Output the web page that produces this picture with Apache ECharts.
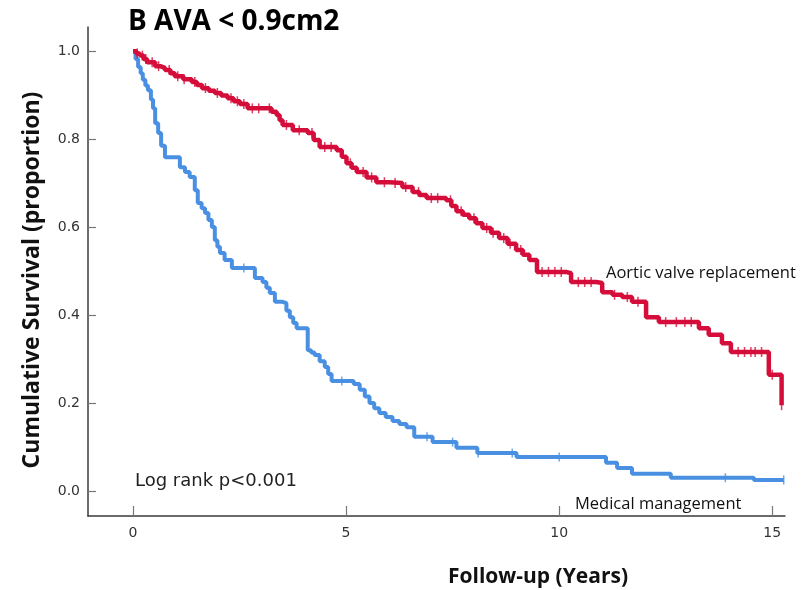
<!DOCTYPE html>
<html>
<head>
<meta charset="utf-8">
<script src="https://cdn.jsdelivr.net/npm/echarts@6/dist/echarts.min.js"></script>
<style>
  html, body { margin: 0; padding: 0; background: #ffffff; }
  #chart { width: 803px; height: 590px; }
</style>
</head>
<body>
<div id="chart"></div>
<script>
// ---- Data ----
var xTicks = [0, 5, 10, 15];
var yTicks = [0, 0.2, 0.4, 0.6, 0.8, 1.0];

// Aortic valve replacement: time (years), survival proportion
var avrTime = [0, 0.08, 0.16, 0.25, 0.33, 0.52, 0.64, 0.75, 0.88, 0.98, 1.18, 1.38, 1.5, 1.62, 1.78, 1.92, 2.07, 2.22, 2.36, 2.51, 2.69, 3.11, 3.25, 3.37, 3.44, 3.51, 3.75, 4.10, 4.24, 4.38, 4.78, 4.9, 5.01, 5.13, 5.25, 5.48, 5.71, 6.02, 6.32, 6.56, 6.72, 6.89, 7.35, 7.47, 7.59, 7.74, 7.89, 8.05, 8.20, 8.40, 8.59, 8.79, 8.99, 9.15, 9.30, 9.48, 10.16, 10.28, 10.87, 11.01, 11.25, 11.48, 11.71, 12.04, 12.34, 13.28, 13.51, 13.82, 14.03, 14.92, 15.22, 15.22];
var avrSurv = [1.0, 0.995, 0.99, 0.982, 0.975, 0.966, 0.962, 0.957, 0.95, 0.943, 0.936, 0.930, 0.923, 0.916, 0.91, 0.905, 0.899, 0.893, 0.886, 0.880, 0.870, 0.870, 0.862, 0.855, 0.843, 0.832, 0.820, 0.814, 0.798, 0.782, 0.775, 0.760, 0.745, 0.735, 0.725, 0.713, 0.702, 0.700, 0.691, 0.680, 0.673, 0.666, 0.661, 0.648, 0.636, 0.628, 0.620, 0.609, 0.598, 0.587, 0.575, 0.562, 0.548, 0.537, 0.525, 0.498, 0.495, 0.475, 0.473, 0.452, 0.446, 0.441, 0.430, 0.395, 0.384, 0.370, 0.355, 0.336, 0.316, 0.264, 0.264, 0.195];
var avrCensor = [0.1, 0.22, 0.3, 0.45, 0.6, 0.85, 1.05, 1.2, 1.45, 1.7, 1.98, 2.3, 2.45, 2.6, 2.8, 2.95, 3.2, 3.6, 3.9, 4.2, 4.5, 4.65, 5.1, 5.4, 5.6, 5.9, 6.15, 6.4, 6.7, 7.0, 7.15, 7.45, 7.7, 8.0, 8.3, 8.45, 8.7, 8.85, 9.1, 9.6, 9.75, 9.9, 10.05, 10.45, 10.6, 10.75, 11.3, 11.6, 11.85, 12.5, 12.75, 12.95, 13.1, 14.2, 14.35, 14.5, 14.6, 14.75, 15.0, 15.22];

// Medical management
var medTime = [0, 0.06, 0.12, 0.18, 0.23, 0.29, 0.35, 0.42, 0.47, 0.52, 0.59, 0.66, 0.75, 1.10, 1.22, 1.33, 1.45, 1.52, 1.61, 1.69, 1.77, 1.85, 1.92, 1.98, 2.04, 2.15, 2.32, 2.86, 3.04, 3.13, 3.21, 3.33, 3.51, 3.60, 3.68, 3.76, 3.84, 4.10, 4.18, 4.26, 4.38, 4.50, 4.58, 4.66, 5.18, 5.32, 5.44, 5.55, 5.66, 5.78, 5.93, 6.09, 6.25, 6.42, 6.60, 7.03, 7.59, 8.08, 9.00, 11.10, 11.36, 11.71, 12.62, 14.57, 15.27];
var medSurv = [1.0, 0.982, 0.964, 0.95, 0.935, 0.922, 0.911, 0.89, 0.87, 0.836, 0.814, 0.785, 0.759, 0.736, 0.725, 0.714, 0.684, 0.655, 0.643, 0.632, 0.616, 0.600, 0.570, 0.555, 0.541, 0.525, 0.507, 0.484, 0.475, 0.462, 0.450, 0.430, 0.427, 0.41, 0.395, 0.382, 0.370, 0.320, 0.315, 0.309, 0.295, 0.282, 0.266, 0.250, 0.243, 0.230, 0.215, 0.200, 0.188, 0.177, 0.168, 0.159, 0.152, 0.145, 0.123, 0.111, 0.098, 0.086, 0.077, 0.064, 0.052, 0.039, 0.030, 0.025, 0.025];
var medCensor = [2.6, 4.9, 6.9, 7.5, 8.1, 8.9, 10.0, 13.9, 15.27];

var titleText = 'B AVA < 0.9cm2';
var xName = 'Follow-up (Years)';
var yName = 'Cumulative Survival (proportion)';
var labelAVR = 'Aortic valve replacement';
var labelMed = 'Medical management';
var logRank = 'Log rank p<0.001';

// ---- Build ----
function pairs(t, s) { return t.map(function (v, i) { return [v, s[i]]; }); }
function survAt(t, s, x) {
  var y = s[0];
  for (var i = 0; i < t.length; i++) { if (t[i] <= x) y = s[i]; else break; }
  return y;
}
function censorPts(c, t, s) { return c.map(function (x) { return [x, survAt(t, s, x)]; }); }

var RED = '#d40d3b';
var BLUE = '#4a90e2';
var AX = '#3a3a3a';

var chart = echarts.init(document.getElementById('chart'), null, { renderer: 'canvas' });
chart.setOption({
  animation: false,
  backgroundColor: '#ffffff',
  grid: { left: 88, right: 18, top: 27, bottom: 74, containLabel: false },
  xAxis: {
    type: 'value', min: -1.056, max: 15.3,
    axisLine: { show: true, onZero: false, lineStyle: { color: AX, width: 1.5 } },
    axisTick: { show: true, inside: true, length: 10, customValues: xTicks, lineStyle: { color: '#777', width: 1.2 } },
    axisLabel: { customValues: xTicks, color: '#333', fontFamily: 'DejaVu Sans', fontSize: 14, margin: 10 },
    splitLine: { show: false }
  },
  yAxis: {
    type: 'value', min: -0.057, max: 1.055,
    axisLine: { show: true, onZero: false, lineStyle: { color: AX, width: 1.5 } },
    axisTick: { show: true, inside: true, length: 8, customValues: yTicks, lineStyle: { color: '#777', width: 1.2 } },
    axisLabel: { customValues: yTicks, color: '#333', fontFamily: 'DejaVu Sans', fontSize: 14, margin: 8,
      formatter: function (v) { return v.toFixed(1); } },
    splitLine: { show: false }
  },
  series: [
    { type: 'line', step: 'end', data: pairs(medTime, medSurv), showSymbol: false,
      lineStyle: { color: BLUE, width: 4 }, itemStyle: { color: BLUE }, z: 2 },
    { type: 'scatter', data: censorPts(medCensor, medTime, medSurv), symbol: 'rect', symbolSize: [1.5, 9],
      itemStyle: { color: BLUE }, z: 2 },
    { type: 'line', step: 'end', data: pairs(avrTime, avrSurv), showSymbol: false,
      lineStyle: { color: RED, width: 4.5 }, itemStyle: { color: RED }, z: 3 },
    { type: 'scatter', data: censorPts(avrCensor, avrTime, avrSurv), symbol: 'rect', symbolSize: [1.5, 10],
      itemStyle: { color: RED }, z: 3 }
  ],
  graphic: [
    { type: 'text', x: 128, y: 22, style: { text: titleText, fill: '#000', font: 'bold 28px "Open Sans"', align: 'left', verticalAlign: 'middle' } },
    { type: 'text', x: 538, y: 577, style: { text: xName, fill: '#111', font: 'bold 21px "Open Sans"', align: 'center', verticalAlign: 'middle' } },
    { type: 'text', x: 32, y: 280, rotation: Math.PI / 2, style: { text: yName, fill: '#111', font: 'bold 23px "Open Sans"', align: 'center', verticalAlign: 'middle' } },
    { type: 'text', x: 135, y: 481, style: { text: logRank, fill: '#222', font: '18px "DejaVu Sans"', align: 'left', verticalAlign: 'middle' } },
    { type: 'text', x: 606, y: 273, style: { text: labelAVR, fill: '#111', font: '16.5px "Open Sans"', align: 'left', verticalAlign: 'middle' } },
    { type: 'text', x: 575, y: 504, style: { text: labelMed, fill: '#111', font: '16.5px "Open Sans"', align: 'left', verticalAlign: 'middle' } }
  ]
});
</script>
</body>
</html>
